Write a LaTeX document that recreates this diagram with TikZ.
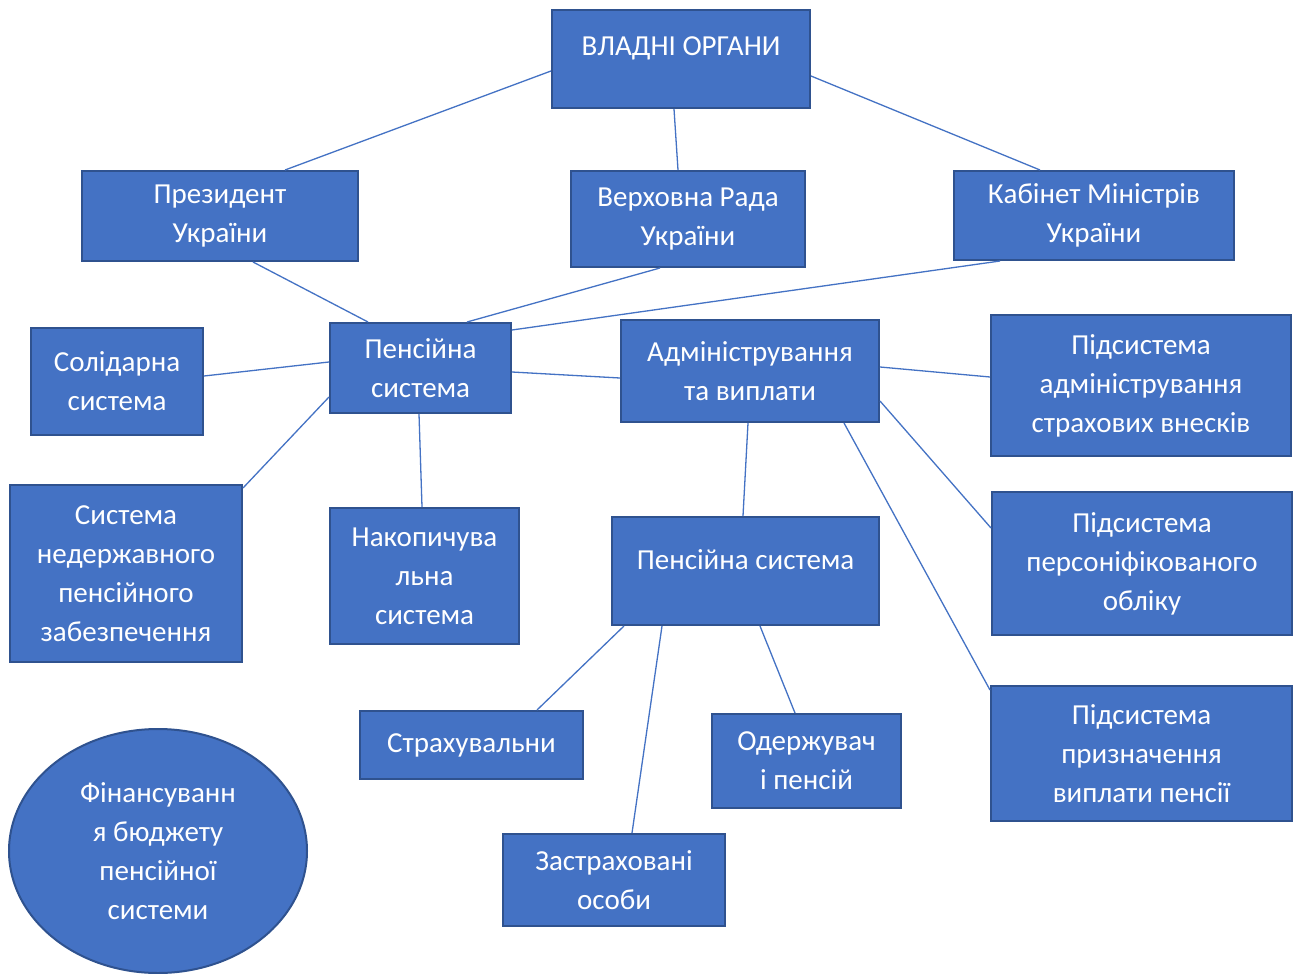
\documentclass[tikz,border=0pt]{standalone}
\usepackage{fontspec}
\setmainfont{Carlito}
\usetikzlibrary{shapes.geometric}
\definecolor{boxfill}{HTML}{4472C4}
\definecolor{boxline}{HTML}{2F528F}
\definecolor{conn}{HTML}{4472C4}
\begin{document}
\begin{tikzpicture}[x=1pt,y=-1pt,
  box/.style={rectangle, draw=boxline, line width=2pt, fill=boxfill, text=white, align=center, inner sep=0pt,
    font=\fontsize{29}{39}\selectfont},
  oval/.style={ellipse, draw=boxline, line width=2pt, fill=boxfill, text=white, align=center, inner sep=0pt,
    font=\fontsize{29}{39}\selectfont},
  lbl/.style={text=white, align=center, inner sep=0pt, font=\fontsize{29}{39}\selectfont},
  conn/.style={draw=conn, line width=1.3pt}]
\useasboundingbox (0,0) rectangle (1298,974);
\fill[white] (0,0) rectangle (1298,974);

\node[box, minimum width=258pt, minimum height=98pt] (vlad) at (681,59) {};
\node[lbl] (vladT) at (681,48) {ВЛАДНІ ОРГАНИ};
\node[box, minimum width=276pt, minimum height=90pt] (prez) at (220,216) {Президент\\України};
\node[box, minimum width=234pt, minimum height=96pt] (verh) at (688,219) {Верховна Рада\\України};
\node[box, minimum width=280pt, minimum height=89pt] (kab) at (1094,215.5) {Кабінет Міністрів\\України};
\node[box, minimum width=172pt, minimum height=107pt] (sol) at (117,381.5) {Солідарна\\система};
\node[box, minimum width=181pt, minimum height=90pt] (pens) at (420.5,368) {Пенсійна\\система};
\node[box, minimum width=258pt, minimum height=102pt] (adm) at (750,371) {Адміністрування\\та виплати};
\node[box, minimum width=300pt, minimum height=141pt] (padm) at (1141,385.5) {Підсистема\\адміністрування\\страхових внесків};
\node[box, minimum width=232pt, minimum height=177pt] (ned) at (126,573.5) {Система\\недержавного\\пенсійного\\забезпечення};
\node[box, minimum width=189pt, minimum height=136pt] (nak) at (424.5,576) {Накопичува\\льна\\система};
\node[box, minimum width=267pt, minimum height=108pt] (pens2) at (745.5,571) {};
\node[lbl] (pens2T) at (745.5,560) {Пенсійна система};
\node[box, minimum width=300pt, minimum height=143pt] (pers) at (1142,563.5) {Підсистема\\персоніфікованого\\обліку};
\node[box, minimum width=223pt, minimum height=68pt] (strah) at (471.5,745) {Страхувальни};
\node[box, minimum width=189pt, minimum height=94pt] (oder) at (806.5,761) {Одержувач\\і пенсій};
\node[box, minimum width=301pt, minimum height=135pt] (pryzn) at (1141.5,753.5) {Підсистема\\призначення\\виплати пенсії};
\node[box, minimum width=222pt, minimum height=92pt] (zastr) at (614,880) {Застраховані\\особи};
\node[oval, minimum width=298pt, minimum height=244pt] (fin) at (158,851) {Фінансуванн\\я бюджету\\пенсійної\\системи};

\draw[conn] ([yshift=-12pt]vlad.west) -- ([xshift=65pt]prez.north);
\draw[conn] ([xshift=-7pt]vlad.south) -- ([xshift=-10pt]verh.north);
\draw[conn] ([yshift=-17pt]vlad.east) -- ([xshift=-54pt]kab.north);
\draw[conn] ([xshift=33pt]prez.south) -- ([xshift=-52.5pt]pens.north);
\draw[conn] ([xshift=-28pt]verh.south) -- ([xshift=46.5pt]pens.north);
\draw[conn] ([xshift=-94pt]kab.south) -- ([yshift=38pt]pens.east);
\draw[conn] ([yshift=5.5pt]sol.east) -- ([yshift=6pt]pens.west);
\draw[conn] ([yshift=-29pt]pens.west) -- ([yshift=85.5pt]ned.east);
\draw[conn] ([xshift=-1.5pt]pens.south) -- ([xshift=-2.5pt]nak.north);
\draw[conn] ([yshift=-4pt]pens.east) -- ([yshift=-7pt]adm.west);
\draw[conn] ([yshift=4pt]adm.east) -- ([yshift=8.5pt]padm.west);
\draw[conn] ([yshift=-30pt]adm.east) -- ([yshift=35.5pt]pers.west);
\draw[conn] ([xshift=94pt]adm.south) -- ([yshift=63.5pt]pryzn.west);
\draw[conn] ([xshift=-2pt]adm.south) -- ([xshift=-2.5pt]pens2.north);
\draw[conn] ([xshift=-121.5pt]pens2.south) -- ([xshift=65.5pt]strah.north);
\draw[conn] ([xshift=-83.5pt]pens2.south) -- ([xshift=18pt]zastr.north);
\draw[conn] ([xshift=14.5pt]pens2.south) -- ([xshift=-11.5pt]oder.north);
\end{tikzpicture}
\end{document}
